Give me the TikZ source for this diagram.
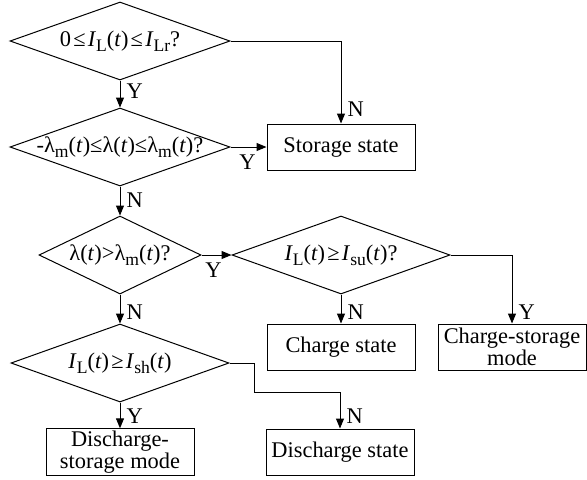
\documentclass[tikz,border=0pt]{standalone}
\usepackage{fontspec}
\setmainfont{Liberation Serif}
\usetikzlibrary{shapes.geometric,arrows.meta,calc}
% lowered, slightly reduced subscript
\newcommand\lsub[1]{\raisebox{-0.22em}{\fontsize{8.8}{9}\selectfont #1}}
\newcommand\ivar[1]{\textit{#1}}
% relation signs with a little room on both sides
\newcommand\rel[1]{\kern0.1em#1\kern0.1em}
\begin{document}
\begin{tikzpicture}[x=0.5pt,y=-0.5pt,
  every node/.style={font=\fontsize{11.2}{11}\selectfont},
  line width=0.5pt,
  dec/.style={draw, diamond, inner sep=0pt, minimum height=39pt},
  box/.style={draw, rectangle, minimum width=74pt, minimum height=23pt,
              align=center, inner sep=1pt},
  arr/.style={-{Triangle[length=5pt,width=4pt]}},
  lbl/.style={inner sep=0pt, anchor=west}]
\useasboundingbox (0,0) rectangle (587,479);

% decisions
\node[dec, minimum width=110pt] (d1) at (120,41)
  {\makebox[0pt]{0\rel{≤}\ivar{I}\lsub{L}(\ivar{t})\rel{≤}\ivar{I}\lsub{Lr}?}};
\node[dec, minimum width=110pt] (d2) at (120,147)
  {\makebox[0pt]{-λ\lsub{m}(\ivar{t})≤λ(\ivar{t})≤λ\lsub{m}(\ivar{t})?}};
\node[dec, minimum width=81pt] (d3) at (120,255)
  {\makebox[0pt]{λ(\ivar{t})>λ\lsub{m}(\ivar{t})?}};
\node[dec, minimum width=109pt] (d4) at (341,255)
  {\makebox[0pt]{\ivar{I}\lsub{L}(\ivar{t})\rel{≥}\ivar{I}\lsub{su}(\ivar{t})?}};
\node[dec, minimum width=109pt] (d5) at (120,363)
  {\makebox[0pt]{\ivar{I}\lsub{L}(\ivar{t})\rel{≥}\ivar{I}\lsub{sh}(\ivar{t})}};

% outcomes
\node[box] (st) at (341,147) {Storage state};
\node[box] (ch) at (341,347) {Charge state};
\node[box] (cs) at (512,347) {Charge-storage\\mode};
\node[box] (dsm) at (120,452) {Discharge-\\storage mode};
\node[box] (dst) at (340,452) {Discharge state};

% connectors
\draw[arr] (d1.south) -- (d2.north);
\node[lbl] at ($(d2.north)+(6,-16)$) {Y};
\draw[arr] (d1.east) -| (st.north);
\node[lbl] at ($(st.north)+(6,-14)$) {N};
\draw[arr] (d2.east) -- (st.west);
\node[inner sep=0pt] at ($(d2.east)+(17,15)$) {Y};
\draw[arr] (d2.south) -- (d3.north);
\node[lbl] at ($(d3.north)+(6,-15)$) {N};
\draw[arr] (d3.east) -- (d4.west);
\node[inner sep=0pt] at ($(d3.east)+(12,15)$) {Y};
\draw[arr] (d4.south) -- (ch.north);
\node[lbl] at ($(ch.north)+(6,-11)$) {N};
\draw[arr] (d4.east) -| (cs.north);
\node[lbl] at ($(cs.north)+(6,-11)$) {Y};
\draw[arr] (d3.south) -- (d5.north);
\node[lbl] at ($(d5.north)+(6,-11)$) {N};
\draw[arr] (d5.south) -- (dsm.north);
\node[lbl] at ($(dsm.north)+(6,-12)$) {Y};
\draw[arr] (d5.east) -- ++(25,0) |- ($(dst.north)+(0,-36)$) -- (dst.north);
\node[lbl] at ($(dst.north)+(6,-12)$) {N};
\end{tikzpicture}
\end{document}
